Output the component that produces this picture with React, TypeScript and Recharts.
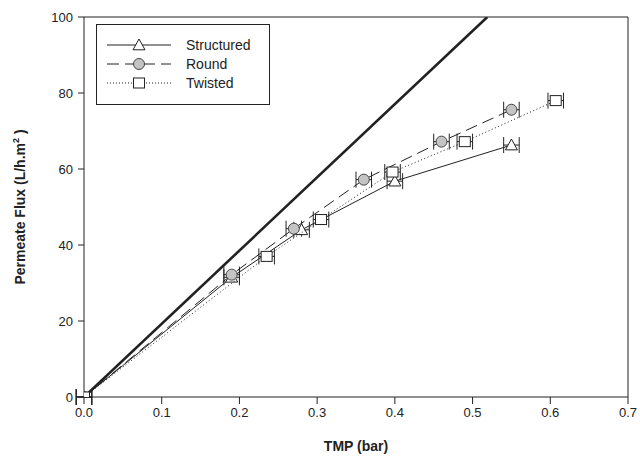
import {
  ScatterChart,
  Scatter,
  XAxis,
  YAxis,
  ErrorBar,
  ReferenceLine,
} from 'recharts';

// TMP (bar) vs permeate flux (L/h.m2)
const STRUCTURED_TMP = [0, 0.19, 0.28, 0.4, 0.55];
const STRUCTURED_FLUX = [0, 31.5, 44, 56.8, 66.3];
const STRUCTURED_ERR = [0.01, 0.01, 0.01, 0.01, 0.01];

const ROUND_TMP = [0, 0.19, 0.27, 0.36, 0.46, 0.55];
const ROUND_FLUX = [0, 32.2, 44.3, 57.2, 67.2, 75.6];
const ROUND_ERR = [0.01, 0.01, 0.01, 0.01, 0.01, 0.01];

const TWISTED_TMP = [0, 0.235, 0.305, 0.397, 0.49, 0.607];
const TWISTED_FLUX = [0, 37, 46.7, 59.2, 67.2, 78];
const TWISTED_ERR = [0.01, 0.01, 0.01, 0.01, 0.01, 0.01];

// thick reference line (clean water)
const PURE_TMP = [0, 0.519];
const PURE_FLUX = [0, 100];

const X_TICKS = [0, 0.1, 0.2, 0.3, 0.4, 0.5, 0.6, 0.7];
const Y_TICKS = [0, 20, 40, 60, 80, 100];

const LEGEND_NAMES = ['Structured', 'Round', 'Twisted'];

const FONT = '"Liberation Sans", Arial, Helvetica, sans-serif';
const INK = '#222';

function toRows(xs: number[], ys: number[], errs?: number[]) {
  return xs.map((x, i) => ({ tmp: x, flux: ys[i], err: errs ? errs[i] : 0 }));
}

const structured = toRows(STRUCTURED_TMP, STRUCTURED_FLUX, STRUCTURED_ERR);
const round = toRows(ROUND_TMP, ROUND_FLUX, ROUND_ERR);
const twisted = toRows(TWISTED_TMP, TWISTED_FLUX, TWISTED_ERR);
const pure = toRows(PURE_TMP, PURE_FLUX);

function Triangle({ cx, cy }: any) {
  const s = 6;
  return (
    <path
      d={`M${cx},${cy - s} L${cx + s},${cy + s * 0.8} L${cx - s},${cy + s * 0.8} Z`}
      fill="#fff"
      stroke={INK}
      strokeWidth={1}
    />
  );
}

function Circle({ cx, cy }: any) {
  return <circle cx={cx} cy={cy} r={5.5} fill="#c4c4c4" stroke="#444" strokeWidth={1} />;
}

function Square({ cx, cy }: any) {
  return <rect x={cx - 5.5} y={cy - 5} width={11} height={10} fill="#fff" stroke={INK} strokeWidth={1} />;
}

function NoMark() {
  return <g />;
}

// legend drawn as an overlay inside the plot frame
function LegendBox() {
  const rows = [
    { dash: undefined, mark: (y: number) => <Triangle cx={139} cy={y} /> },
    { dash: '12 6', mark: (y: number) => <Circle cx={139} cy={y} /> },
    { dash: '1 2', mark: (y: number) => <Square cx={139} cy={y} /> },
  ];
  return (
    <svg
      width={176}
      height={82}
      style={{ position: 'absolute', left: 96, top: 24, display: 'block' }}
    >
      <g transform="translate(-96,-24)">
        <rect x={96.5} y={24.5} width={173} height={80} fill="#fff" stroke={INK} strokeWidth={1} />
        {rows.map((r, i) => {
          const y = 45 + i * 19;
          return (
            <g key={i}>
              <line x1={107} x2={171} y1={y} y2={y} stroke={INK} strokeWidth={1} strokeDasharray={r.dash} />
              {r.mark(y)}
              <text x={186} y={y + 5} fontSize={14} fontFamily={FONT} fill={INK}>
                {LEGEND_NAMES[i]}
              </text>
            </g>
          );
        })}
      </g>
    </svg>
  );
}

function YLabel() {
  return (
    <text
      x={25}
      y={207}
      transform="rotate(-90 25 207)"
      textAnchor="middle"
      fontSize={14}
      fontWeight="bold"
      fontFamily={FONT}
      fill={INK}
    >
      Permeate Flux (L/h.m
      <tspan dy={-6} fontSize={9}>2</tspan>
      <tspan dy={6}> )</tspan>
    </text>
  );
}

function XLabel() {
  return (
    <text x={356} y={451} textAnchor="middle" fontSize={14} fontWeight="bold" fontFamily={FONT} fill={INK}>
      TMP (bar)
    </text>
  );
}

export default function App() {
  const tick = { fontSize: 13, fill: INK, fontFamily: FONT };
  return (
    <div style={{ position: 'absolute', left: 0, top: 0, width: 640, height: 461, background: '#fff' }}>
      <ScatterChart width={640} height={461} margin={{ top: 17, right: 12, bottom: 0, left: 0 }}>
        <XAxis
          type="number"
          dataKey="tmp"
          domain={[0, 0.7]}
          ticks={X_TICKS}
          tickFormatter={(v: number) => v.toFixed(1)}
          tick={tick}
          tickSize={7}
          tickMargin={4}
          height={64}
          stroke={INK}
          allowDataOverflow
          label={<XLabel />}
        />
        <YAxis
          type="number"
          dataKey="flux"
          domain={[0, 100]}
          ticks={Y_TICKS}
          tick={tick}
          tickSize={6}
          tickMargin={5}
          width={84}
          stroke={INK}
          allowDataOverflow
          label={<YLabel />}
        />
        <ReferenceLine y={100} stroke={INK} strokeWidth={1} />
        <ReferenceLine x={0.7} stroke={INK} strokeWidth={1} />
        <Scatter
          name="Pure"
          data={pure}
          line={{ stroke: INK, strokeWidth: 2.6 }}
          lineType="joint"
          shape={<NoMark />}
          isAnimationActive={false}
          legendType="none"
        />
        <Scatter
          name="Structured"
          data={structured}
          line={{ stroke: INK, strokeWidth: 1 }}
          lineType="joint"
          shape={<Triangle />}
          isAnimationActive={false}
        >
          <ErrorBar dataKey="err" direction="x" width={8} stroke={INK} strokeWidth={1} />
        </Scatter>
        <Scatter
          name="Round"
          data={round}
          line={{ stroke: INK, strokeWidth: 1, strokeDasharray: '12 6' }}
          lineType="joint"
          shape={<Circle />}
          isAnimationActive={false}
        >
          <ErrorBar dataKey="err" direction="x" width={8} stroke={INK} strokeWidth={1} />
        </Scatter>
        <Scatter
          name="Twisted"
          data={twisted}
          line={{ stroke: INK, strokeWidth: 1, strokeDasharray: '1 2.5' }}
          lineType="joint"
          shape={<Square />}
          isAnimationActive={false}
        >
          <ErrorBar dataKey="err" direction="x" width={8} stroke={INK} strokeWidth={1} />
        </Scatter>
      </ScatterChart>
      <LegendBox />
    </div>
  );
}
